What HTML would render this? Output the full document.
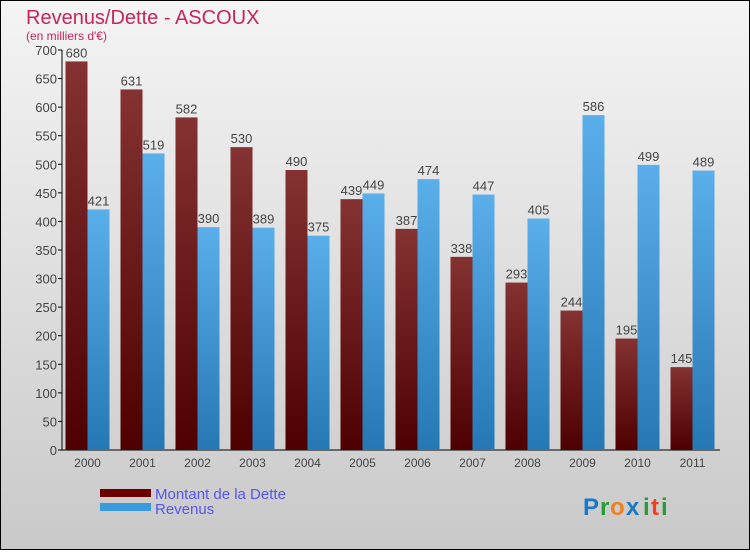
<!DOCTYPE html>
<html><head><meta charset="utf-8"><style>
body{margin:0;width:750px;height:550px;overflow:hidden;font-family:"Liberation Sans",sans-serif}
</style></head><body>
<svg width="750" height="550" xmlns="http://www.w3.org/2000/svg" font-family="Liberation Sans, sans-serif">
<defs>
<linearGradient id="bg" x1="0" y1="0" x2="0" y2="1"><stop offset="0" stop-color="#f4f4f4"/><stop offset="1" stop-color="#c9c9c9"/></linearGradient>
<linearGradient id="gd" x1="0" y1="0" x2="0" y2="1"><stop offset="0" stop-color="#843232"/><stop offset="1" stop-color="#4e0000"/></linearGradient>
<linearGradient id="gr" x1="0" y1="0" x2="0" y2="1"><stop offset="0" stop-color="#5aaeea"/><stop offset="1" stop-color="#2678b4"/></linearGradient>
</defs>
<rect x="0.5" y="0.5" width="749" height="549" fill="url(#bg)" stroke="#000"/>
<text x="26" y="24" font-size="20" fill="#c8245e">Revenus/Dette - ASCOUX</text>
<text x="26" y="40" font-size="12" fill="#c8245e">(en milliers d'€)</text>
<g id="plot"></g>
<rect x="100" y="489" width="51" height="8" fill="#6a0000"/>
<rect x="100" y="503" width="51" height="8" fill="#3a9ae0"/>
<text x="155" y="499" font-size="15" fill="#5555ee">Montant de la Dette</text>
<text x="155" y="514" font-size="15" fill="#5555ee">Revenus</text>
<g font-size="24" font-weight="bold">
<text x="583" y="515" fill="#1a78c8">P</text><text x="600" y="515" fill="#2a9a3a">r</text><text x="610" y="515" fill="#f08020">o</text><text x="626" y="515" fill="#1a78c8">x</text><text x="643" y="515" fill="#2a9a3a">i</text><text x="651" y="515" fill="#f04020">t</text><text x="661" y="515" fill="#2a9a3a">i</text>
</g>
</svg>
<script>
const years=["2000","2001","2002","2003","2004","2005","2006","2007","2008","2009","2010","2011"];
const dette=[680,631,582,530,490,439,387,338,293,244,195,145];
const revenus=[421,519,390,389,375,449,474,447,405,586,499,489];
const yTicks=[0,50,100,150,200,250,300,350,400,450,500,550,600,650,700];
const NS="http://www.w3.org/2000/svg";
const g=document.getElementById('plot');
const y=v=>450-v*400/700;
const x=i=>65.5+55*i;
function el(t,a,txt){const e=document.createElementNS(NS,t);for(const k in a)e.setAttribute(k,a[k]);if(txt!==undefined)e.textContent=txt;g.appendChild(e);return e;}
const ax=el('line',{x1:62,y1:50,x2:62,y2:450,stroke:'#000'});


const bx=el('line',{x1:62,y1:450,x2:720,y2:450,stroke:'#000'});


yTicks.forEach(v=>{
 const t=el('line',{x1:58,y1:y(v),x2:62,y2:y(v),stroke:'#000'});
 
 
 const l=el('text',{x:57,y:y(v)+5,'font-size':13,fill:'#444','text-anchor':'end'},v);
 
 
});
years.forEach((yr,i)=>{
 const b1=el('rect',{x:x(i),y:y(dette[i]),width:22,height:450-y(dette[i]),fill:'url(#gd)'});
 
 
 const b2=el('rect',{x:x(i)+22,y:y(revenus[i]),width:22,height:450-y(revenus[i]),fill:'url(#gr)'});
 
 
 const v1=el('text',{x:x(i)+11,y:y(dette[i])-4,'font-size':13,fill:'#444','text-anchor':'middle'},dette[i]);
 
 
 const v2=el('text',{x:x(i)+33,y:y(revenus[i])-4,'font-size':13,fill:'#444','text-anchor':'middle'},revenus[i]);
 
 
 const xl=el('text',{x:x(i)+22,y:467,'font-size':12,fill:'#444','text-anchor':'middle'},yr);
 
 
});
</script>
</body></html>
